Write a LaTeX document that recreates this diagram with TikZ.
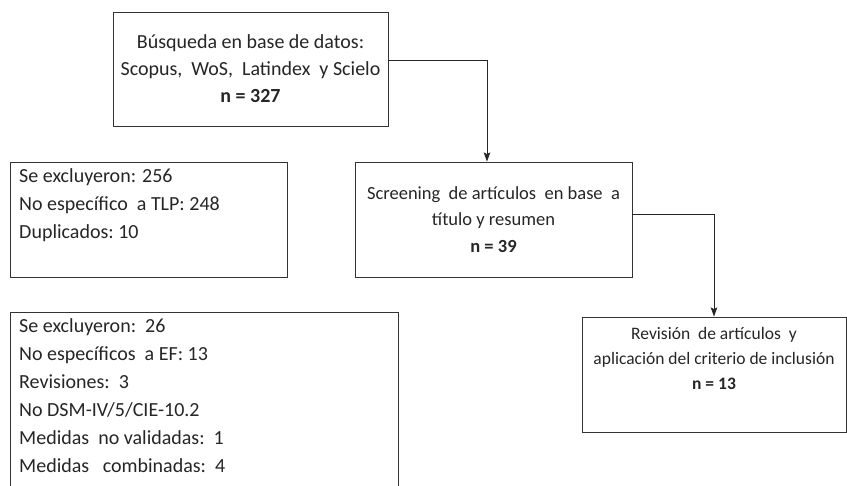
\documentclass[tikz,border=0pt]{standalone}
\usepackage{fontspec}
\setmainfont{Carlito}
\usetikzlibrary{arrows.meta}
\begin{document}
\begin{tikzpicture}[x=1pt,y=-1pt,
  boxnode/.style={draw=black!80, line width=0.9pt, inner sep=0pt, text=black!85, align=center},
  plaintext/.style={inner sep=0pt, text=black!85},
  conn/.style={draw=black!85, line width=0.9pt, -{Stealth[length=9pt,width=6.5pt,inset=1.5pt]}}]
\clip (0,0) rectangle (847,486);
\fill[white] (0,0) rectangle (847,486);
% main column
\node[boxnode, minimum width=275pt, minimum height=114pt, font=\fontsize{20}{27}\selectfont] (b1) at (250.5,69)
  {Búsqueda en base de datos:\\ Scopus,\ \ WoS,\ \ Latindex\ \ y Scielo\\ \textbf{n = 327}};
\node[boxnode, minimum width=277pt, minimum height=115pt, font=\fontsize{18.5}{26.5}\selectfont] (b2) at (493.5,219.5)
  {Screening\ \ de artículos\ \ en base\ \ a\\ título y resumen\\ \textbf{n = 39}};
\node[boxnode, minimum width=264pt, minimum height=115pt] (b3) at (714,374.5) {};
\node[plaintext, align=center, font=\fontsize{17.5}{25}\selectfont] (t3) at (714,358)
  {Revisión\ \ de artículos\ \ y\\ aplicación del criterio de inclusión\\ \textbf{n = 13}};
% exclusion boxes
\node[boxnode, minimum width=277pt, minimum height=115pt] (l1) at (148.5,219.5) {};
\node[plaintext, align=left, anchor=north west, font=\fontsize{20}{28}\selectfont] (tl1) at (19,168.5)
  {Se excluyeron: 256\\ No específico\ \ a TLP:\ 248\\ Duplicados:\ 10};
\node[boxnode, minimum width=388pt, minimum height=188pt] (l2) at (204,406) {};
\node[plaintext, align=left, anchor=north west, font=\fontsize{20}{28}\selectfont] (tl2) at (19,318.5)
  {Se excluyeron:\ \ 26\\ No específicos\ \ a EF: 13\\ Revisiones:\ \ 3\\ No DSM-IV/5/CIE-10.2\\ Medidas\ \ no validadas:\ \ 1\\ Medidas\ \ \ combinadas:\ \ 4};
% connectors
\draw[conn] ([yshift=9pt]b1.east) -| ([xshift=-6.5pt]b2.north);
\draw[conn] ([yshift=5.5pt]b2.east) -| (b3.north);
\end{tikzpicture}
\end{document}
